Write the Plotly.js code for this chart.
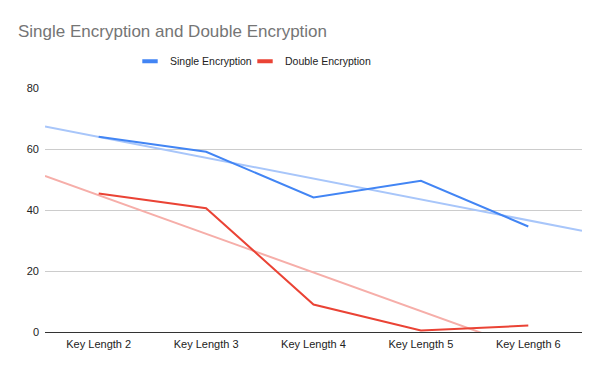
<!DOCTYPE html>
<html>
<head>
<meta charset="utf-8">
<script src="https://cdn.plot.ly/plotly-3.0.1.min.js"></script>
<style>html,body{margin:0;padding:0;background:#fff;}#chart{width:600px;height:371px;}</style>
</head>
<body>
<div id="chart"></div>
<script>
const categories = ["Key Length 2", "Key Length 3", "Key Length 4", "Key Length 5", "Key Length 6"];
const singleEncryption = [64.0, 59.1, 44.1, 49.6, 34.6];
const doubleEncryption = [45.4, 40.6, 9.0, 0.5, 2.1];
const yTicks = [0, 20, 40, 60, 80];

// Linear trendline (least squares over category index), as the original chart does
function trend(vals) {
  const n = vals.length;
  const xs = vals.map((_, i) => i);
  const mx = xs.reduce((a, b) => a + b, 0) / n;
  const my = vals.reduce((a, b) => a + b, 0) / n;
  let sxy = 0, sxx = 0;
  for (let i = 0; i < n; i++) { sxy += (xs[i] - mx) * (vals[i] - my); sxx += (xs[i] - mx) ** 2; }
  const m = sxy / sxx, b = my - m * mx;
  const x0 = -0.5, x1 = n - 0.5;
  return { x: [x0, x1], y: [m * x0 + b, m * x1 + b] };
}
const idx = categories.map((_, i) => i);
const ts = trend(singleEncryption);
const td = trend(doubleEncryption);

const font = "'Liberation Sans', Arial, sans-serif";
const data = [
  { x: ts.x, y: ts.y, type: "scatter", mode: "lines", line: { color: "#a8c6fa", width: 2 }, showlegend: false, hoverinfo: "skip" },
  { x: td.x, y: td.y, type: "scatter", mode: "lines", line: { color: "#f6aea9", width: 2 }, showlegend: false, hoverinfo: "skip" },
  { x: idx, y: singleEncryption, name: "Single Encryption", type: "scatter", mode: "lines", line: { color: "#4285f4", width: 2 }, showlegend: false },
  { x: idx, y: doubleEncryption, name: "Double Encryption", type: "scatter", mode: "lines", line: { color: "#ea4335", width: 2 }, showlegend: false },
  // legend entries (short bar symbols like the original)
  { x: [null], y: [null], name: "Single Encryption", type: "scatter", mode: "markers", legend: "legend", marker: { symbol: "line-ew", size: 11, line: { color: "#4285f4", width: 4 } } },
  { x: [null], y: [null], name: "Double Encryption", type: "scatter", mode: "markers", legend: "legend2", marker: { symbol: "line-ew", size: 11, line: { color: "#ea4335", width: 4 } } }
];
const legendBase = { orientation: "h", xanchor: "left", y: 1.11, yanchor: "middle", font: { family: font, size: 10.5, color: "#222" }, itemwidth: 30, bgcolor: "rgba(0,0,0,0)" };
const layout = {
  width: 600, height: 371,
  margin: { l: 45, r: 18, t: 88, b: 39 },
  paper_bgcolor: "#fff", plot_bgcolor: "#fff",
  font: { family: font, size: 11, color: "#222" },
  title: { text: "Single Encryption and Double Encryption", x: 0.03, xanchor: "left", y: 0.915, yanchor: "middle", font: { family: font, size: 17, color: "#757575" } },
  legend: Object.assign({}, legendBase, { x: (130 - 45) / 537 }),
  legend2: Object.assign({}, legendBase, { x: (245 - 45) / 537 }),
  xaxis: { range: [-0.5, categories.length - 0.5], tickmode: "array", tickvals: idx, ticktext: categories, showgrid: false, zeroline: false, showline: false, ticks: "", ticklabelstandoff: 4, fixedrange: true },
  yaxis: { range: [0, 80], tickmode: "array", tickvals: yTicks, ticktext: yTicks.map(String), gridcolor: "#cccccc", gridwidth: 1, zeroline: true, zerolinecolor: "#333", zerolinewidth: 1, showline: false, ticks: "", ticklabelstandoff: 5, fixedrange: true }
};
Plotly.newPlot("chart", data, layout, { displayModeBar: false, staticPlot: true });
</script>
</body>
</html>
